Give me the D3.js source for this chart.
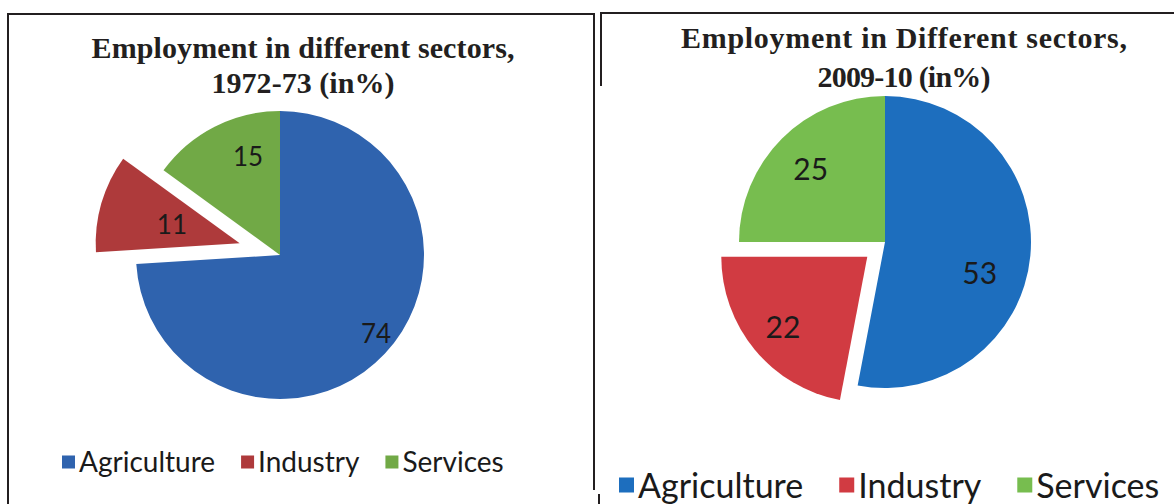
<!DOCTYPE html>
<html>
<head>
<meta charset="utf-8">
<script src="https://cdn.jsdelivr.net/npm/d3@7"></script>
<style>
  html, body { margin: 0; padding: 0; background: #fff; }
  svg { display: block; }
</style>
</head>
<body>
<svg id="chart" width="1174" height="504"></svg>
<script>
// ---- data ----
const categories = ["Agriculture", "Industry", "Services"];
const values1972 = [74, 11, 15];
const values2009 = [53, 22, 25];
const title1972 = ["Employment in different sectors,", "1972-73 (in%)"];
const title2009 = ["Employment in Different sectors,", "2009-10 (in%)"];
const colors1972 = ["#2F63AE", "#AE3A3B", "#71A946"];
const colors2009 = ["#1D6EBE", "#D13B42", "#77BD4F"];
const explodedCategory = "Industry";

// ---- layout ----
const svg = d3.select("#chart");

const charts = [
  {
    values: values1972, title: title1972, colors: colors1972,
    cx: 280, cy: 255, r: 144, explode: 42,
    labelFont: 26, labelPlace: [[0.86, -4], [0.49, 0], [0.72, 9]],
    titleX: 303, titleY: [58, 93], titleLen: [423, 183], titleFont: 30,
    legendX: 62, legendY: 461, legendFont: 28, sq: 13, legendGap: 26
  },
  {
    values: values2009, title: title2009, colors: colors2009,
    cx: 885, cy: 242, r: 146, explode: 23,
    labelFont: 30, labelPlace: [[0.68, 12], [0.75, 0], [0.72, 0]],
    titleX: 904, titleY: [48, 87], titleLen: [446, 173], titleFont: 30,
    legendX: 619, legendY: 484, legendFont: 34, sq: 15, legendGap: 36
  }
];

// panel frames
const frame = svg.append("g").attr("fill", "none").attr("stroke", "#231f20").attr("stroke-width", 2);
frame.append("path").attr("d", "M8,520 L8,14 L594,14 L594,490");
frame.append("path").attr("d", "M601,86 L601,13 L1176,13");
frame.append("path").attr("d", "M599,494 L599,506");

charts.forEach(c => {
  const g = svg.append("g");

  // title
  c.title.forEach((line, i) => {
    g.append("text")
      .attr("x", c.titleX).attr("y", c.titleY[i])
      .attr("text-anchor", "middle")
      .attr("textLength", c.titleLen[i])
      .attr("lengthAdjust", "spacing")
      .style("font-family", "'Liberation Serif', 'Times New Roman', serif")
      .style("font-weight", "bold")
      .style("font-size", c.titleFont + "px")
      .style("fill", "#231f20")
      .text(line);
  });

  // pie
  const pie = d3.pie().sort(null).value(d => d.value).startAngle(0).endAngle(2 * Math.PI);
  const data = pie(categories.map((k, i) => ({ key: k, value: c.values[i], color: c.colors[i] })));
  const arc = d3.arc().innerRadius(0).outerRadius(c.r);

  const offset = d => {
    if (d.data.key !== explodedCategory) return [0, 0];
    const mid = (d.startAngle + d.endAngle) / 2;
    return [c.explode * Math.sin(mid), -c.explode * Math.cos(mid)];
  };

  const slices = g.append("g").attr("transform", `translate(${c.cx},${c.cy})`);
  slices.selectAll("path").data(data).join("path")
    .attr("transform", d => `translate(${offset(d)})`)
    .attr("d", arc)
    .attr("fill", d => d.data.color);

  slices.selectAll("text").data(data).join("text")
    .attr("transform", (d, i) => {
      const [f, dAng] = c.labelPlace[i];
      const a = (d.startAngle + d.endAngle) / 2 + dAng * Math.PI / 180;
      const o = offset(d);
      return `translate(${o[0] + f * c.r * Math.sin(a)},${o[1] - f * c.r * Math.cos(a)})`;
    })
    .attr("text-anchor", "middle")
    .attr("dominant-baseline", "central")
    .style("font-family", "Lato, 'Open Sans', sans-serif")
    .style("font-size", c.labelFont + "px")
    .style("fill", "#1a1a1a")
    .text(d => d.data.value);

  // legend
  const lg = g.append("g");
  let x = c.legendX;
  categories.forEach((k, i) => {
    lg.append("rect")
      .attr("x", x).attr("y", c.legendY - c.sq / 2 + 1)
      .attr("width", c.sq).attr("height", c.sq)
      .attr("fill", c.colors[i]);
    const t = lg.append("text")
      .attr("x", x + c.sq + 4).attr("y", c.legendY)
      .attr("dominant-baseline", "central")
      .style("font-family", "Lato, 'Open Sans', sans-serif")
      .style("font-size", c.legendFont + "px")
      .style("fill", "#1a1a1a")
      .text(k);
    x += c.sq + 4 + t.node().getComputedTextLength() + c.legendGap;
  });
});
</script>
</body>
</html>
